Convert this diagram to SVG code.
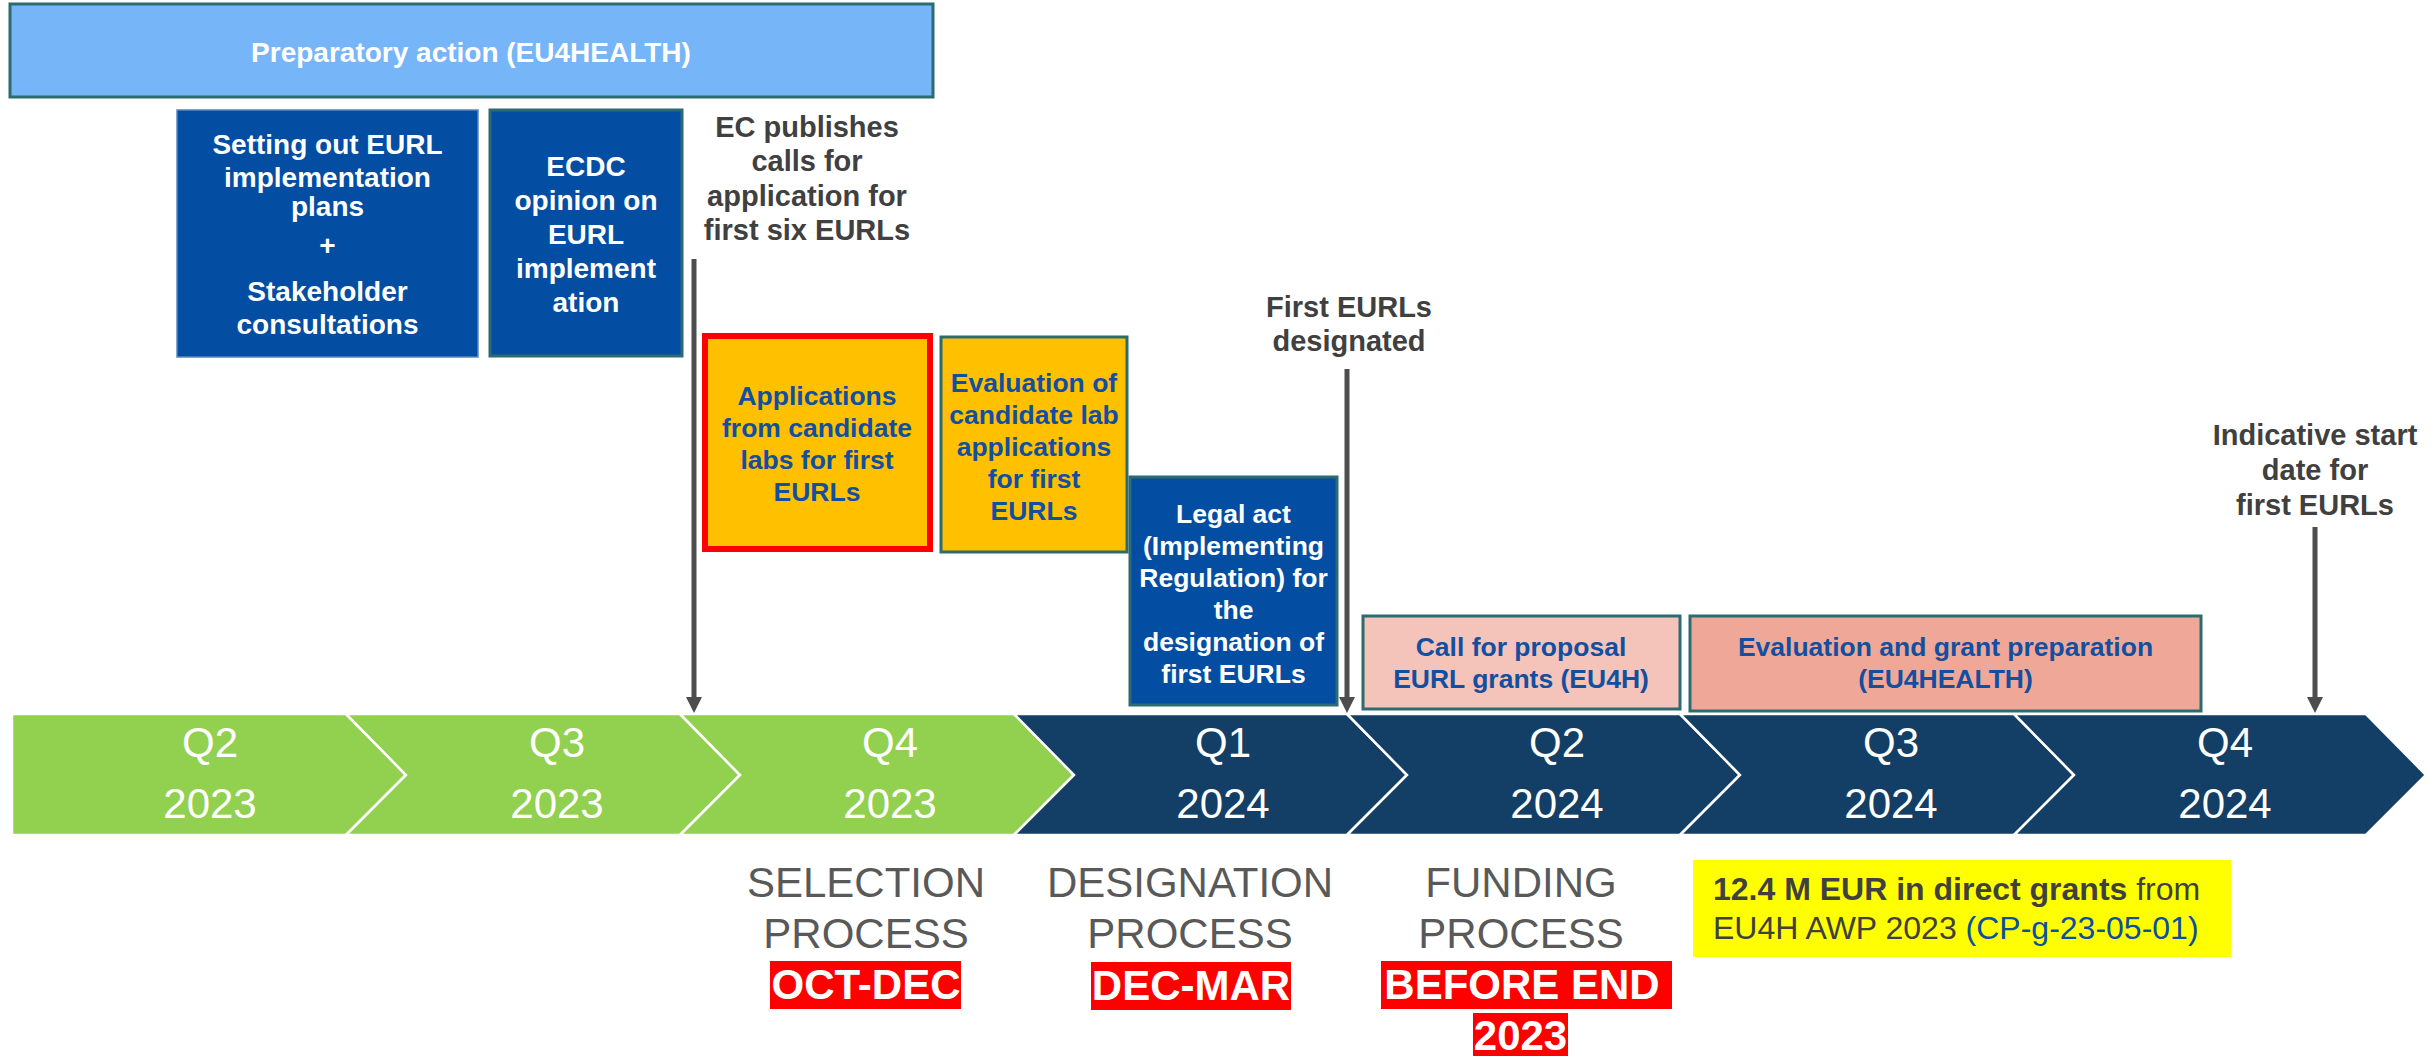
<svg xmlns="http://www.w3.org/2000/svg" width="2430" height="1056" viewBox="0 0 2430 1056">
<defs>
<style>
text{font-family:"Liberation Sans",Arial,sans-serif;}
.wb{fill:#ffffff;font-weight:bold;font-size:28px;text-anchor:middle;}
.wb26{fill:#ffffff;font-weight:bold;font-size:26.5px;text-anchor:middle;}
.bb{fill:#124FA0;font-weight:bold;font-size:26.5px;text-anchor:middle;}
.gl{fill:#404040;font-weight:bold;font-size:29px;text-anchor:middle;}
.q{fill:#ffffff;font-size:42px;text-anchor:middle;}
.proc{fill:#595959;font-size:42px;text-anchor:middle;}
.red{fill:#ffffff;font-weight:bold;font-size:42px;text-anchor:middle;}
.blue{fill:#034EA2;stroke:#2C6B6F;stroke-width:3;}
.org{fill:#FFC000;}
.seg-g{fill:#92D050;stroke:#ffffff;stroke-width:2.5;}
.seg-n{fill:#133E65;stroke:#ffffff;stroke-width:2.5;}
.arr{stroke:#4D4D4D;stroke-width:5;fill:none;}
</style>
<marker id="ah" viewBox="0 0 16 16" refX="2" refY="8" markerWidth="16" markerHeight="16" markerUnits="userSpaceOnUse" orient="auto">
<path d="M0,0 L16,8 L0,16 z" fill="#4D4D4D"/>
</marker>
</defs>
<rect width="2430" height="1056" fill="#ffffff"/>

<g id="timeline">
<polygon class="seg-g" points="12,714 346,714 406,775 346,835 12,835"/>
<polygon class="seg-g" points="346,714 680,714 740,775 680,835 346,835 406,775"/>
<polygon class="seg-g" points="680,714 1014,714 1074,775 1014,835 680,835 740,775"/>
<polygon class="seg-n" points="1014,714 1347,714 1407,775 1347,835 1014,835 1074,775"/>
<polygon class="seg-n" points="1347,714 1680,714 1740,775 1680,835 1347,835 1407,775"/>
<polygon class="seg-n" points="1680,714 2014,714 2074,775 2014,835 1680,835 1740,775"/>
<polygon class="seg-n" points="2014,714 2366,714 2426,775 2366,835 2014,835 2074,775"/>
<text class="q" x="210" y="757">Q2</text><text class="q" x="210" y="818">2023</text>
<text class="q" x="557" y="757">Q3</text><text class="q" x="557" y="818">2023</text>
<text class="q" x="890" y="757">Q4</text><text class="q" x="890" y="818">2023</text>
<text class="q" x="1223" y="757">Q1</text><text class="q" x="1223" y="818">2024</text>
<text class="q" x="1557" y="757">Q2</text><text class="q" x="1557" y="818">2024</text>
<text class="q" x="1891" y="757">Q3</text><text class="q" x="1891" y="818">2024</text>
<text class="q" x="2225" y="757">Q4</text><text class="q" x="2225" y="818">2024</text>
</g>

<g id="preparatory">
<rect x="10" y="4" width="923" height="93" fill="#77B5F9" stroke="#2C6B6F" stroke-width="3"/>
<text class="wb" x="471" y="62">Preparatory action (EU4HEALTH)</text>
</g>

<g id="setting-out">
<rect x="177" y="110" width="301" height="247" fill="#034EA2" stroke="#5A86C0" stroke-width="1.5"/>
<text class="wb" x="327.5" y="154">Setting out EURL</text>
<text class="wb" x="327.5" y="187">implementation</text>
<text class="wb" x="327.5" y="216">plans</text>
<text class="wb" x="327.5" y="255">+</text>
<text class="wb" x="327.5" y="301">Stakeholder</text>
<text class="wb" x="327.5" y="334">consultations</text>
</g>

<g id="ecdc">
<rect class="blue" x="490" y="110" width="192" height="246"/>
<text class="wb" x="586" y="176">ECDC</text>
<text class="wb" x="586" y="210">opinion on</text>
<text class="wb" x="586" y="244">EURL</text>
<text class="wb" x="586" y="278">implement</text>
<text class="wb" x="586" y="312">ation</text>
</g>

<g id="ec-publishes">
<text class="gl" x="807" y="137">EC publishes</text>
<text class="gl" x="807" y="171">calls for</text>
<text class="gl" x="807" y="206">application for</text>
<text class="gl" x="807" y="240">first six EURLs</text>
</g>

<g id="applications">
<rect class="org" x="705" y="336" width="225" height="213" stroke="#FF0000" stroke-width="6"/>
<text class="bb" x="817" y="405">Applications</text>
<text class="bb" x="817" y="437">from candidate</text>
<text class="bb" x="817" y="469">labs for first</text>
<text class="bb" x="817" y="501">EURLs</text>
</g>

<g id="evaluation-labs">
<rect class="org" x="941" y="337" width="186" height="215" stroke="#2C6B6F" stroke-width="3"/>
<text class="bb" x="1034" y="392">Evaluation of</text>
<text class="bb" x="1034" y="424">candidate lab</text>
<text class="bb" x="1034" y="456">applications</text>
<text class="bb" x="1034" y="488">for first</text>
<text class="bb" x="1034" y="520">EURLs</text>
</g>

<g id="first-designated">
<text class="gl" x="1349" y="317">First EURLs</text>
<text class="gl" x="1349" y="351">designated</text>
</g>

<g id="legal-act">
<rect class="blue" x="1130" y="477" width="207" height="228"/>
<text class="wb26" x="1233.5" y="523">Legal act</text>
<text class="wb26" x="1233.5" y="555">(Implementing</text>
<text class="wb26" x="1233.5" y="587">Regulation) for</text>
<text class="wb26" x="1233.5" y="619">the</text>
<text class="wb26" x="1233.5" y="651">designation of</text>
<text class="wb26" x="1233.5" y="683">first EURLs</text>
</g>

<g id="call-proposal">
<rect x="1363" y="616" width="317" height="93" fill="#F4C3B9" stroke="#2C6B6F" stroke-width="3"/>
<text class="bb" x="1521" y="656">Call for proposal</text>
<text class="bb" x="1521" y="688">EURL grants (EU4H)</text>
</g>

<g id="grant-prep">
<rect x="1690" y="616" width="511" height="95" fill="#EFA898" stroke="#2C6B6F" stroke-width="3"/>
<text class="bb" x="1945.5" y="656">Evaluation and grant preparation</text>
<text class="bb" x="1945.5" y="688">(EU4HEALTH)</text>
</g>

<g id="indicative-start">
<text class="gl" x="2315" y="445">Indicative start</text>
<text class="gl" x="2315" y="480">date for</text>
<text class="gl" x="2315" y="515">first EURLs</text>
</g>

<g id="connectors">
<line class="arr" x1="694" y1="259" x2="694" y2="699" marker-end="url(#ah)"/>
<line class="arr" x1="1347" y1="369" x2="1347" y2="699" marker-end="url(#ah)"/>
<line class="arr" x1="2315" y1="527" x2="2315" y2="699" marker-end="url(#ah)"/>
</g>

<g id="selection">
<text class="proc" x="866" y="897">SELECTION</text>
<text class="proc" x="866" y="948">PROCESS</text>
<rect x="770" y="961" width="191" height="48" fill="#FF0000"/>
<text class="red" x="866" y="999">OCT-DEC</text>
</g>

<g id="designation">
<text class="proc" x="1190" y="897">DESIGNATION</text>
<text class="proc" x="1190" y="948">PROCESS</text>
<rect x="1091" y="962" width="200" height="48" fill="#FF0000"/>
<text class="red" x="1191" y="1000">DEC-MAR</text>
</g>

<g id="funding">
<text class="proc" x="1521" y="897">FUNDING</text>
<text class="proc" x="1521" y="948">PROCESS</text>
<rect x="1381" y="961" width="291" height="48" fill="#FF0000"/>
<text class="red" x="1522" y="999">BEFORE END</text>
<rect x="1473" y="1013" width="95" height="43" fill="#FF0000"/>
<text class="red" x="1520.5" y="1050">2023</text>
</g>

<g id="grants-note">
<rect x="1693" y="860" width="538" height="97" fill="#FFFF00"/>
<text x="1713" y="900" font-size="32" fill="#404040"><tspan font-weight="bold">12.4 M EUR in direct grants</tspan> from</text>
<text x="1713" y="939" font-size="32" fill="#404040">EU4H AWP 2023 <tspan fill="#0B4EA2">(CP-g-23-05-01)</tspan></text>
</g>
</svg>
